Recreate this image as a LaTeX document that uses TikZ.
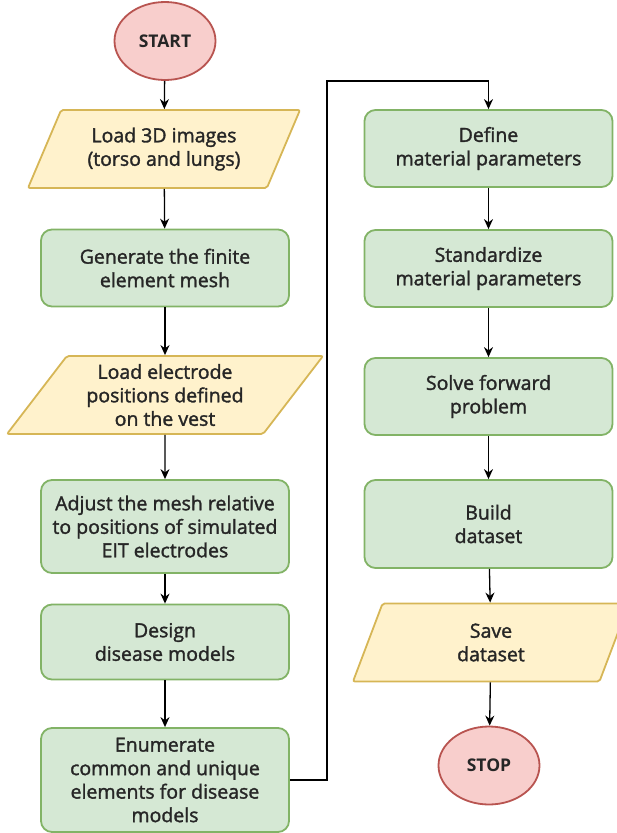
\documentclass[tikz,border=0pt]{standalone}
\usepackage{fontspec}
\setmainfont{Open Sans}
\newfontfamily\boxfont{Open Sans}[FakeBold=1.6]
\usepackage{tikz}
\usetikzlibrary{arrows.meta, shapes.geometric, positioning}

\definecolor{procfill}{HTML}{D5E8D4}
\definecolor{procline}{HTML}{82B366}
\definecolor{iofill}{HTML}{FFF2CC}
\definecolor{ioline}{HTML}{D6B656}
\definecolor{termfill}{HTML}{F8CECC}
\definecolor{termline}{HTML}{B85450}

\tikzset{
    every node/.style={font=\boxfont\fontsize{19.5}{23.5}\selectfont, align=center, text=black!85},
    proc/.style={rectangle, rounded corners=11pt, draw=procline, fill=procfill,
        line width=1.8pt, minimum width=248pt, inner sep=0pt},
    io/.style={trapezium, trapezium stretches body, draw=ioline, fill=iofill,
        line width=1.8pt, minimum height=78pt, inner sep=0pt, rounded corners=2pt},
    term/.style={ellipse, draw=termline, fill=termfill, line width=1.8pt,
        minimum width=101pt, minimum height=78pt, inner sep=0pt,
        font=\fontsize{17.5}{20}\selectfont\bfseries},
    arr/.style={-{Stealth[length=10pt, width=9pt]}, line width=1.3pt, black},
}

\begin{document}
\begin{tikzpicture}[x=1pt, y=-1pt]
    \useasboundingbox (0,0) rectangle (617,833);

    % Left column
    \node[term] (start) at (165,41) {START};
    \node[io, trapezium left angle=52.4, trapezium right angle=127.6,
        minimum width=272pt] (images) at (164,149) {Load 3D images\\(torso and lungs)};
    \node[proc, minimum height=77pt] (mesh) at (165,268) {Generate the finite\\element mesh};
    \node[io, trapezium left angle=46, trapezium right angle=134,
        minimum width=316pt] (electrodes) at (165,395) {Load electrode\\positions defined\\on the vest};
    \node[proc, minimum height=93pt] (adjust) at (165,526.5) {Adjust the mesh relative\\to positions of simulated\\EIT electrodes};
    \node[proc, minimum height=75pt] (disease) at (165,642) {Design\\disease models};
    \node[proc, minimum height=104pt] (enumerate) at (165,780) {Enumerate\\common and unique\\elements for disease\\models};

    % Right column
    \node[proc, minimum height=77pt] (define) at (488.5,148.5) {Define\\material parameters};
    \node[proc, minimum height=77pt] (standard) at (488.5,268.5) {Standardize\\material parameters};
    \node[proc, minimum height=77pt] (forward) at (488.5,396.5) {Solve forward\\problem};
    \node[proc, minimum height=88pt] (build) at (488.5,524) {Build\\dataset};
    \node[io, trapezium left angle=52, trapezium right angle=128,
        minimum width=276pt] (save) at (491,642.5) {Save\\dataset};
    \node[term] (stop) at (489,765.5) {STOP};

    % Arrows
    \draw[arr] (start) -- (images);
    \draw[arr] (images) -- (mesh);
    \draw[arr] (mesh) -- (electrodes);
    \draw[arr] (electrodes) -- (adjust);
    \draw[arr] (adjust) -- (disease);
    \draw[arr] (disease) -- (enumerate);

    % Link to the right column
    \coordinate (turn) at (327,81);
    \draw[arr] (enumerate.east) -| (turn) -- (turn -| define.north) -- (define.north);

    \draw[arr] (define) -- (standard);
    \draw[arr] (standard) -- (forward);
    \draw[arr] (forward) -- (build);
    \draw[arr] (build) -- (save);
    \draw[arr] (save) -- (stop);
\end{tikzpicture}
\end{document}
